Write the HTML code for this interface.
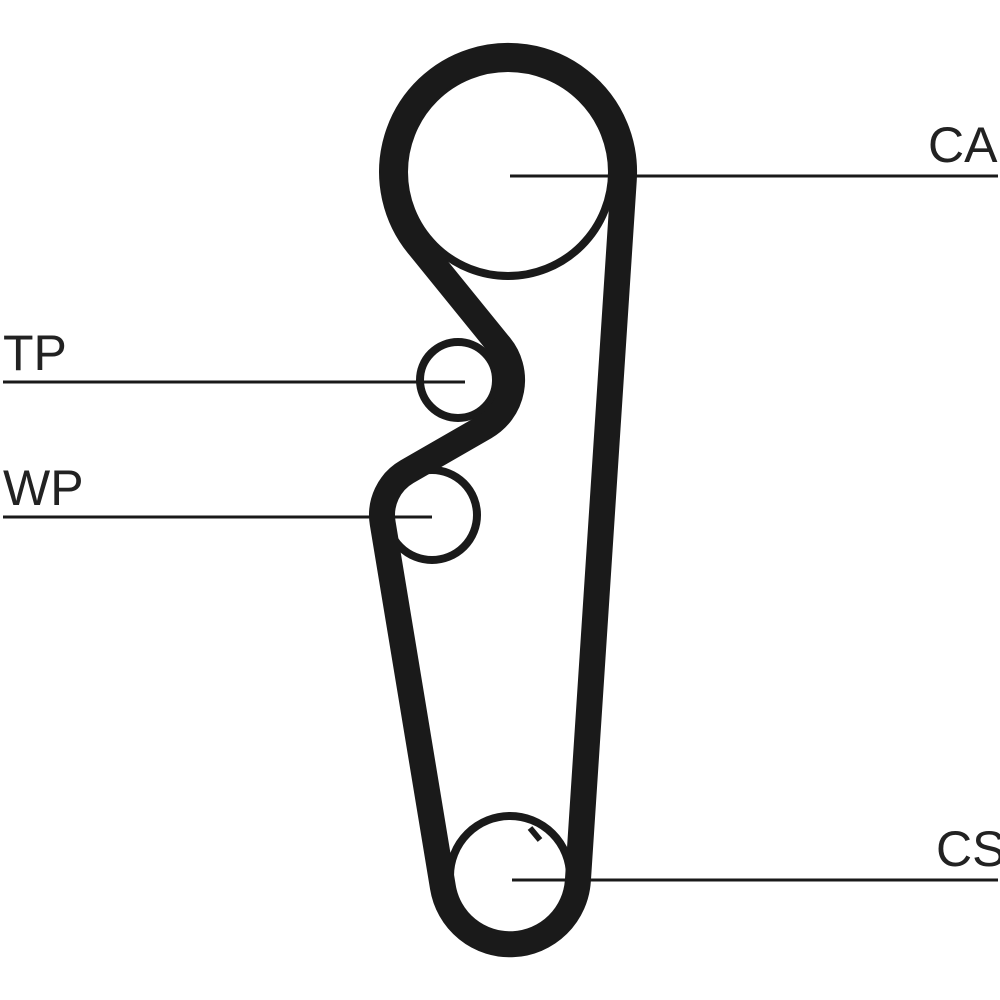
<!DOCTYPE html>
<html><head><style>
html,body{margin:0;padding:0;background:#fff;}
svg{display:block;}
text{font-family:"Liberation Sans",sans-serif;font-size:50px;fill:#222;}
</style></head><body>
<svg width="1000" height="1000" viewBox="0 0 1000 1000">
<g fill="none" stroke="#1a1a1a">
<circle cx="508" cy="172" r="104" stroke-width="8"/>
<circle cx="458" cy="380" r="38" stroke-width="8"/>
<circle cx="432" cy="515" r="45" stroke-width="8"/>
<circle cx="510" cy="876" r="60" stroke-width="8"/>
<path d="M623.8,179.6 A116,116 0 1 0 418,245 L500,346 A54,54 0 0 1 485,426.8 L407,471.7 A50,50 0 0 0 382.7,523.2 L442.9,887.1 A68,68 0 0 0 577.9,880.5 Z" stroke-width="26" stroke-linejoin="round"/>
<g stroke-width="3">
<line x1="510" y1="176" x2="998" y2="176"/>
<line x1="3" y1="382" x2="465" y2="382"/>
<line x1="3" y1="517" x2="432" y2="517"/>
<line x1="512" y1="880" x2="998" y2="880"/>
</g>
<line x1="530" y1="828" x2="540" y2="840" stroke-width="6"/>
</g>
<text x="928" y="162">CA</text>
<text x="3" y="370">TP</text>
<text x="3" y="505">WP</text>
<text x="936" y="866">CS</text>
</svg>
</body></html>
